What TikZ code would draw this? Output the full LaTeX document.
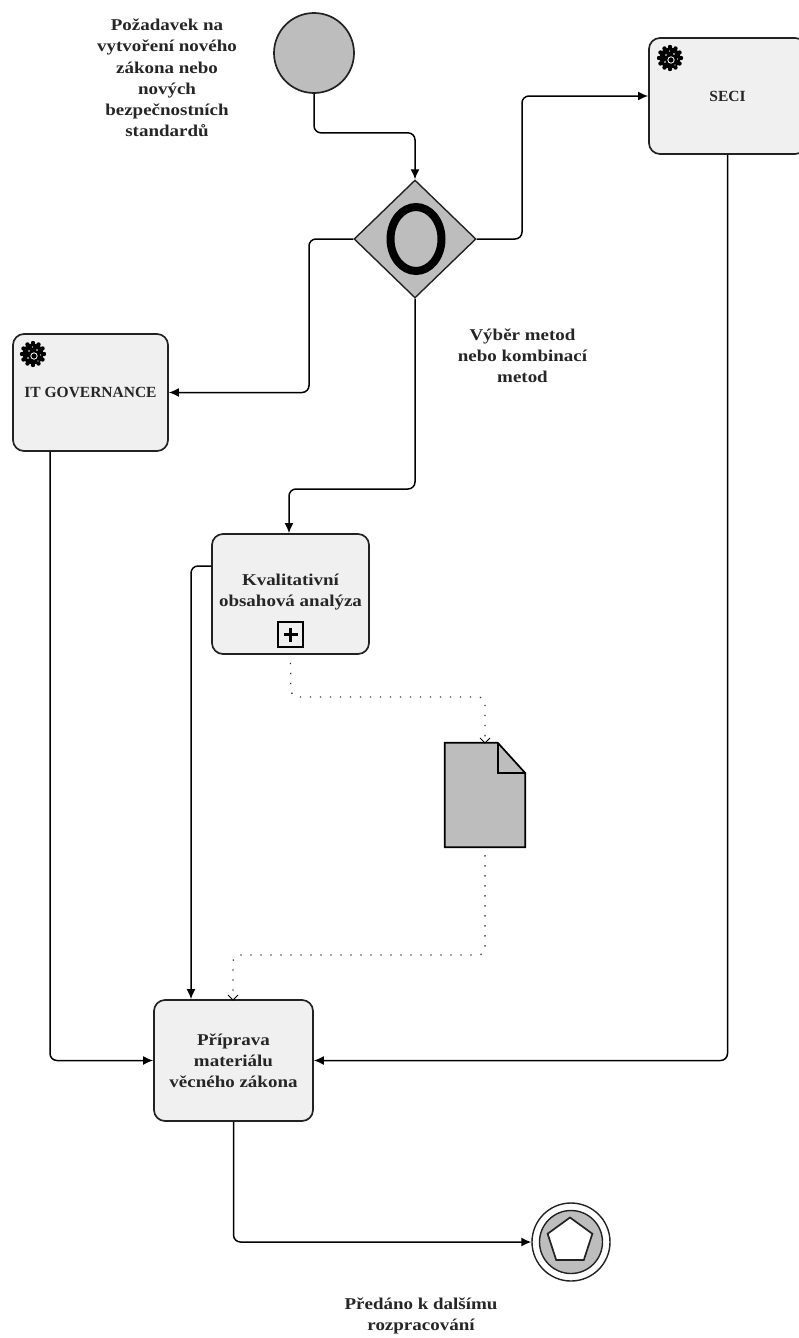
\documentclass[tikz,border=0pt]{standalone}
\usepackage{fontspec}
\setmainfont{Liberation Serif}
\newfontfamily\widebold[FakeStretch=1.15]{Liberation Serif Bold}
\usetikzlibrary{shapes.geometric,arrows.meta,calc}
\definecolor{taskfill}{HTML}{F0F0F0}
\definecolor{evfill}{HTML}{BDBDBD}
\definecolor{lin}{HTML}{222222}
\tikzset{
  x=1pt,y=-1pt,
  task/.style={draw=lin,line width=1.7pt,fill=taskfill,rounded corners=11pt,inner sep=0pt,align=center,font=\fontsize{16.5}{21.2}\selectfont\widebold,text=black!85},
  capstask/.style={task,font=\fontsize{15.5}{21.2}\selectfont\bfseries},
  lbl/.style={inner sep=0pt,align=center,font=\fontsize{16.5}{21.2}\selectfont\widebold,text=black!85},
  flow/.style={draw=black,line width=1.5pt,rounded corners=7pt,-{Latex[length=10pt,width=9pt]}},
  assoc/.style={draw=black!80,line width=1.3pt,dash pattern=on 1.3pt off 8.7pt,rounded corners=7pt},
  openhead/.style={draw=black,line width=.9pt},
  pics/cog/.style={code={
    \fill[black] (0,0) circle (10.5);
    \foreach \a in {0,30,...,330}{\fill[black] (\a:11) circle (2.2);}
    \fill[white] (-4,-3) circle (.9);
    \fill[white] (4,-4) circle (.9);
    \draw[white,line width=.8pt] (1,2) circle (3.2);
    \fill[white] (-5,4) circle (.8);
    \fill[white] (-.5,-7) circle (.7);
    \fill[white] (7.5,1) circle (.7);
    \fill[white] (5,7) circle (.7);
  }}
}
\begin{document}
\begin{tikzpicture}
\useasboundingbox (0,0) rectangle (798,1338);
\fill[white] (0,0) rectangle (798,1338);
% nodes
\node[circle,draw=lin,line width=1.7pt,fill=evfill,minimum size=80pt,inner sep=0pt] (start) at (314,53) {};
\node[diamond,draw=lin,line width=1.4pt,fill=evfill,minimum width=122pt,minimum height=118pt,inner sep=0pt] (gw) at (415,239) {};
\draw[line width=8pt,draw=black] (416,239) ellipse (25.5 and 32);
\node[capstask,minimum width=157pt,minimum height=116pt] (seci) at (727.5,96) {SECI};
\node[capstask,minimum width=155pt,minimum height=117pt] (it) at (90.5,392.5) {IT GOVERNANCE};
\node[task,minimum width=157pt,minimum height=120pt] (kval) at (290.5,594) {};
\node[lbl] (kvaltxt) at (290.5,592) {Kvalitativní\\obsahová analýza};
\node[draw=black,line width=1.6pt,fill=taskfill,minimum size=25pt,inner sep=0pt] (plus) at (290.5,634.5) {};
\draw[line width=2.8pt] (plus.center) ++(-7,0) -- ++(14,0) (plus.center) ++(0,-7) -- ++(0,14);
\node[task,minimum width=159pt,minimum height=121pt] (prip) at (233.5,1060.5) {Příprava\\materiálu\\věcného zákona};
\node[minimum width=80pt,minimum height=104pt,inner sep=0pt] (doc) at (485,795) {};
\draw[draw=black,line width=1.7pt,fill=evfill,line join=miter] (doc.north west) -- ++(53,0) -- (doc.north east |- 0,773) -- (doc.south east) -- (doc.south west) -- cycle;
\draw[draw=black,line width=1.7pt] (498,743) -- (498,773) -- (525,773);
\node[circle,draw=lin,line width=1.4pt,fill=white,minimum size=78pt,inner sep=0pt] (end) at (571,1242) {};
\node[circle,draw=lin,line width=1.4pt,fill=evfill,minimum size=63pt,inner sep=0pt] (endin) at (end.center) {};
\node[regular polygon,regular polygon sides=5,draw=lin,line width=1.7pt,fill=white,minimum size=47pt,inner sep=0pt] (pent) at (570,1241) {};
\pic at (33,354) {cog};
\pic at (670,58) {cog};
% labels
\node[lbl] (l1) at (167,78) {Požadavek na\\vytvoření nového\\zákona nebo\\nových\\bezpečnostních\\standardů};
\node[lbl] (l2) at (522.5,356) {Výběr metod\\nebo kombinací\\metod};
\node[lbl] (l3) at (421,1316) {Předáno k dalšímu\\rozpracování};
% flows
\draw[flow] (start.south) -- ++(0,39) -| (gw.north);
\draw[flow] (gw.east) -- (522,239) |- (seci.west);
\draw[flow] (gw.west) -- (309,239) |- (it.east);
\draw[flow] (gw.south) |- (289,489) -- (kval.north -| 289,0);
\draw[flow] (kval.west |- 0,566) -- (191,566) -- (prip.north -| 191,0);
\draw[flow] (it.south -| 50,0) |- (prip.west);
\draw[flow] (seci.south) |- (prip.east);
\draw[flow] (prip.south) |- (end.west);
% associations
\draw[assoc] (kval.south) ++(0,8) -- (291,697) -- (485,697) -- (doc.north);
\draw[openhead] (480,738) -- (485,743) -- (490,738);
\draw[assoc] (doc.south) ++(0,8) -- (485,955) -- (233,955) -- (prip.north -| 233,0);
\draw[openhead] (228,995) -- (233,1000) -- (238,995);
\end{tikzpicture}
\end{document}
